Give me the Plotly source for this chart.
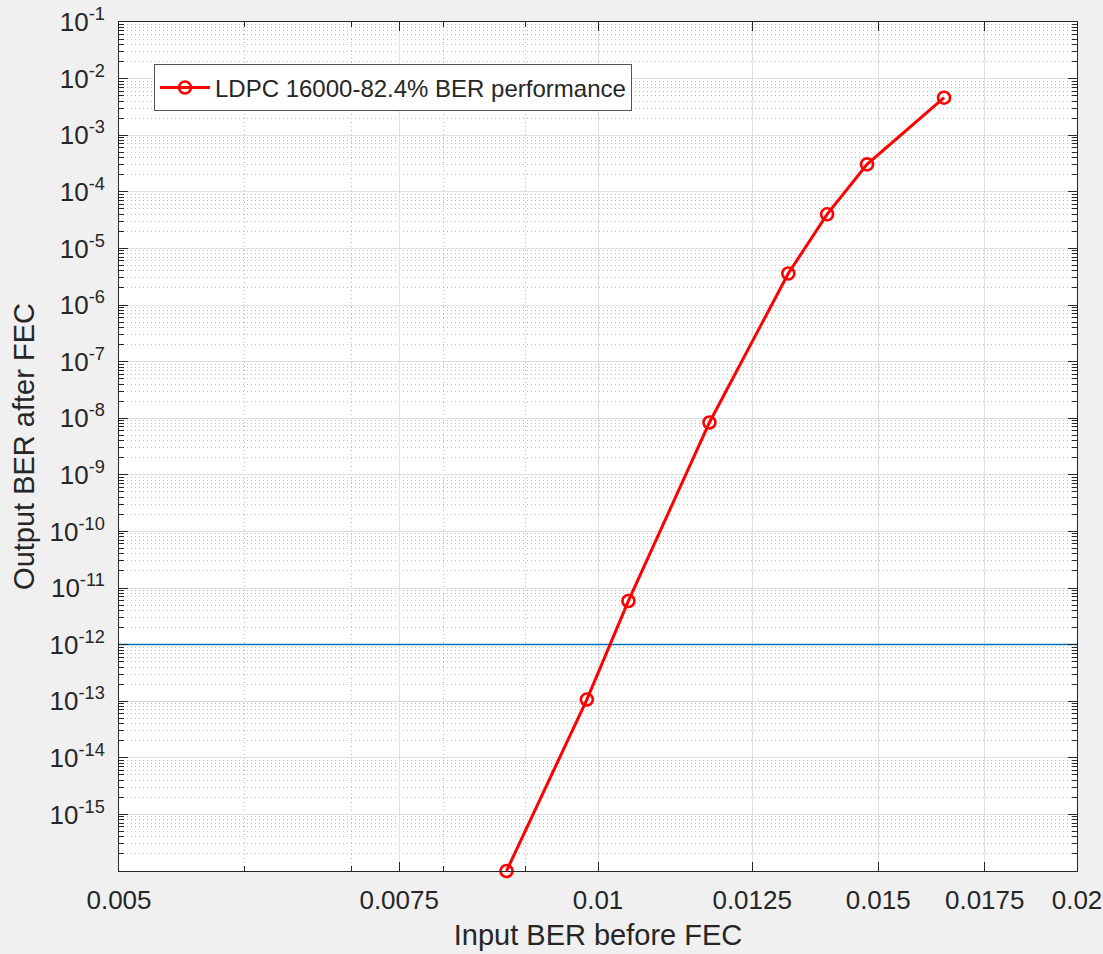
import numpy as np
import plotly.graph_objects as go

# ---- data ----
input_ber = [0.00876, 0.00984, 0.01045, 0.01175, 0.01317, 0.01393, 0.01476, 0.01650]
output_ber = [1.0e-16, 1.07e-13, 5.9e-12, 8.4e-9, 3.6e-6, 4.0e-5, 3.05e-4, 4.6e-3]
series_name = "LDPC 16000-82.4% BER performance"

threshold_x = [0.005, 0.02]
threshold_y = [1e-12, 1e-12]

x_tick_vals = [0.005, 0.0075, 0.01, 0.0125, 0.015, 0.0175, 0.02]
x_tick_text = ["0.005", "0.0075", "0.01", "0.0125", "0.015", "0.0175", "0.02"]
x_minor_vals = [0.006, 0.007, 0.008, 0.009]

y_exponents = list(range(-16, 0))
y_tick_vals = [10.0 ** e for e in y_exponents]
y_tick_text = ["" if e == -16 else "10<sup>%d</sup>" % e for e in y_exponents]
y_minor_vals = [m * 10.0 ** e for e in range(-16, -1) for m in range(2, 10)]

FONT = "Liberation Sans, Arial, Helvetica, sans-serif"
TXT = "#262626"

fig = go.Figure()
fig.add_trace(go.Scatter(
    x=threshold_x, y=threshold_y, mode="lines",
    line=dict(color="#0072BD", width=1.5), showlegend=False, hoverinfo="skip"))
fig.add_trace(go.Scatter(
    x=input_ber, y=output_ber, mode="lines+markers", name=series_name,
    line=dict(color="#ff0000", width=3),
    marker=dict(symbol="circle-open", size=12, color="#ff0000", line=dict(width=2.6, color="#ff0000")),
    cliponaxis=False))

axis_common = dict(
    showline=True, linecolor=TXT, linewidth=1, mirror="allticks",
    ticks="inside", ticklen=9, tickcolor=TXT, tickwidth=1,
    showgrid=True, gridcolor="#dfdfdf", gridwidth=1,
    zeroline=False, automargin=False,
    tickfont=dict(family=FONT, size=26, color=TXT),
    title_font=dict(family=FONT, size=29, color=TXT),
)

minor_common = dict(tickmode="array", ticks="inside", ticklen=5, tickcolor=TXT,
                    showgrid=True, gridcolor="#bdbdbd", griddash="1px,3px", gridwidth=1)

fig.update_xaxes(
    type="log", range=[np.log10(0.005), np.log10(0.02)],
    tickmode="array", tickvals=x_tick_vals, ticktext=x_tick_text,
    minor=dict(tickvals=x_minor_vals, **minor_common),
    title=dict(text="Input BER before FEC", standoff=10),
    ticklabelstandoff=6,
    **axis_common)
fig.update_yaxes(
    type="log", range=[-16, -1],
    tickmode="array", tickvals=y_tick_vals, ticktext=y_tick_text,
    minor=dict(tickvals=y_minor_vals, **minor_common),
    title=dict(text="Output BER after FEC", standoff=6),
    ticklabelstandoff=8,
    **axis_common)

fig.update_layout(
    width=1103, height=954,
    margin=dict(l=119, r=26, t=22, b=83),
    paper_bgcolor="#f0f0f0", plot_bgcolor="#ffffff",
    font=dict(family=FONT, color=TXT),
    legend=dict(x=0.0365, y=0.95, xanchor="left", yanchor="top",
                bgcolor="#ffffff", bordercolor="#555555", borderwidth=1,
                font=dict(family=FONT, size=24, color=TXT), itemwidth=50),
)

fig.write_html("out.html", config={"displayModeBar": False},
               post_script="document.body.style.margin='0';document.body.style.overflow='hidden';")
